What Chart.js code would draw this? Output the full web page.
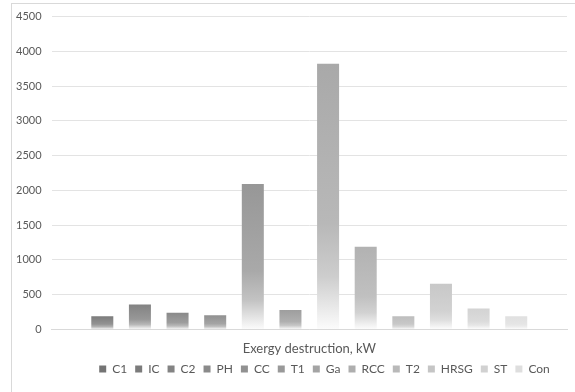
<!DOCTYPE html>
<html>
<head>
<meta charset="utf-8">
<script src="https://cdn.jsdelivr.net/npm/chart.js@4/dist/chart.umd.min.js"></script>
<style>
  html, body { margin: 0; padding: 0; background: #fff; overflow: hidden; }
  #frame {
    position: absolute; left: 11px; top: 3px;
    width: 660px; height: 420px;
    border: 1px solid #d9d9d9; box-sizing: border-box;
  }
  #wrap { position: absolute; left: 0; top: 0; width: 648px; height: 392px; }
</style>
</head>
<body>
<div id="frame"></div>
<div id="wrap"><canvas id="exergy-chart" width="648" height="392"></canvas></div>
<script>
const category = ["Exergy destruction, kW"]
const components = ["C1", "IC", "C2", "PH", "CC", "T1", "Ga", "RCC", "T2", "HRSG", "ST", "Con"]
const destruction = [190, 360, 240, 205, 2090, 280, 3820, 1190, 190, 655, 300, 190]
const yTicks = [0, 500, 1000, 1500, 2000, 2500, 3000, 3500, 4000, 4500]
const grays = ["#747474", "#7b7b7b", "#838383", "#8a8a8a", "#919191", "#999999",
               "#a4a4a4", "#aeaeae", "#b9b9b9", "#c5c5c5", "#d1d1d1", "#dedede"]

// blend a hex grey towards white
const lighten = (hex, t) => {
  const v = parseInt(hex.slice(1, 3), 16)
  const c = Math.round(v + (255 - v) * t)
  return `rgb(${c},${c},${c})`
}

// each bar fades from its grey at the top to white at the baseline
const barFill = (ctx) => {
  const base = grays[ctx.datasetIndex]
  const chart = ctx.chart
  if (ctx.type !== "data" || !chart.chartArea) return base
  const y = chart.scales.y
  const top = y.getPixelForValue(ctx.raw)
  const bottom = y.getPixelForValue(0)
  if (bottom - top < 1) return base
  const g = chart.ctx.createLinearGradient(0, top, 0, bottom)
  g.addColorStop(0, lighten(base, 0.05))
  g.addColorStop(0.6, lighten(base, 0.22))
  g.addColorStop(0.8, lighten(base, 0.45))
  g.addColorStop(1, lighten(base, 0.97))
  return g
}

const datasets = components.map((name, i) => ({
  label: name,
  data: [destruction[i]],
  backgroundColor: barFill,
  borderWidth: 0,
  categoryPercentage: 0.876,
  barPercentage: 0.585,
}))

const font = { family: "Lato, 'Open Sans', sans-serif" }

// the legend sits centred under the whole frame, tucked up under the axis label
const legendShift = {
  id: "legendShift",
  afterLayout(chart) {
    const lg = chart.legend
    lg.left += 38
    lg.right += 38
    lg.top -= 14
    lg.bottom -= 14
  },
}

new Chart(document.getElementById("exergy-chart"), {
  type: "bar",
  data: { labels: category, datasets: datasets },
  plugins: [legendShift],
  options: {
    responsive: false,
    animation: false,
    layout: { padding: { left: 6, right: 81, top: 10, bottom: -7 } },
    plugins: {
      tooltip: { enabled: false },
      legend: {
        position: "bottom",
        labels: {
          boxWidth: 7, boxHeight: 7, padding: 8,
          color: "#595959",
          font: { ...font, size: 12 },
          generateLabels: (chart) =>
            Chart.defaults.plugins.legend.labels.generateLabels(chart).map((item, i) => ({
              ...item, fillStyle: grays[i], strokeStyle: grays[i], lineWidth: 0,
            })),
        },
      },
    },
    scales: {
      x: {
        grid: { display: false, drawTicks: false },
        border: { color: "#d9d9d9", width: 1 },
        ticks: { color: "#595959", padding: 12, font: { ...font, size: 13 } },
      },
      y: {
        min: 0,
        max: 4500,
        afterBuildTicks: (axis) => { axis.ticks = yTicks.map((v) => ({ value: v })) },
        grid: { color: "#e3e3e3", drawTicks: false },
        border: { display: false },
        ticks: {
          color: "#595959", padding: 10, font: { ...font, size: 11 },
          callback: (v) => String(v),
        },
      },
    },
  },
})
</script>
</body>
</html>
